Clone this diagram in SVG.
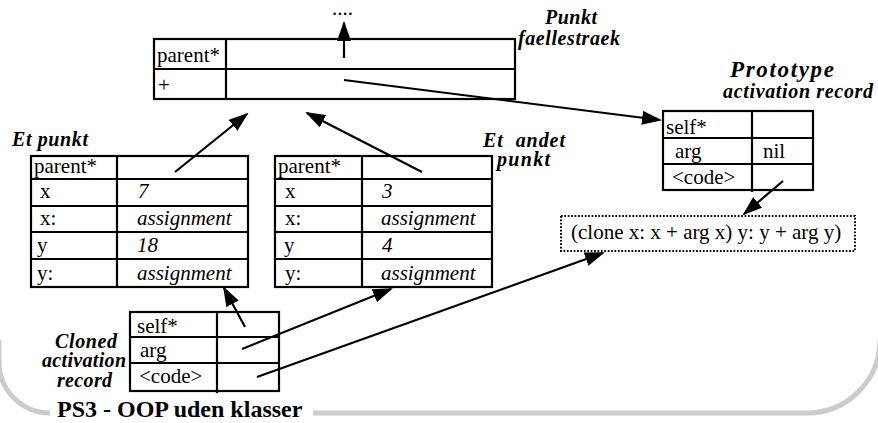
<svg xmlns="http://www.w3.org/2000/svg" width="878" height="423" viewBox="0 0 878 423">
  <style>
    .cell { fill: none; stroke: #000; stroke-width: 2.2; }
    .t { font-size: 21px; fill: #000; }
    .i { font-style: italic; }
    .lbl { font-size: 20px; font-weight: bold; font-style: italic; fill: #000; }
    .big { font-size: 23px; }
    .title { font-size: 24px; font-weight: bold; fill: #000; }
    .frame { fill: none; stroke: #cccccc; stroke-width: 5; }
    .arrow { fill: none; stroke: #000; stroke-width: 2.2; marker-end: url(#head); }
    .dots { fill: none; stroke: #000; stroke-width: 2; stroke-dasharray: 1.7 1.7; }
  </style>
  <defs>
    <marker id="head" markerUnits="userSpaceOnUse" viewBox="0 0 20 14" refX="18" refY="7" markerWidth="20" markerHeight="14" orient="auto">
      <path d="M0,0 L20,7 L0,14 z" fill="#000"/>
    </marker>
  </defs>

  <g font-family="'Liberation Serif', 'Times New Roman', serif">
  <!-- slide frame -->
  <g id="frame">
    <path class="frame" d="M -1,340 L -1,362 A 51 51 0 0 0 50,413"/>
    <path class="frame" d="M 313,413 L 807,413 A 73 73 0 0 0 880,340"/>
    <text class="title" x="57" y="417">PS3 - OOP uden klasser</text>
  </g>

  <!-- shared parent object -->
  <g id="punkt-faellestraek">
    <rect class="cell" x="154" y="39" width="361" height="60"/>
    <line class="cell" x1="154" y1="69" x2="515" y2="69"/>
    <line class="cell" x1="226" y1="39" x2="226" y2="99"/>
    <text class="t" x="157" y="62">parent*</text>
    <text class="t" x="158" y="92">+</text>
    <text class="t" x="332" y="15">....</text>
    <text class="lbl" x="545" y="24" textLength="52" lengthAdjust="spacing">Punkt</text>
    <text class="lbl" x="518" y="45" textLength="102" lengthAdjust="spacing">faellestraek</text>
  </g>

  <!-- first point -->
  <g id="et-punkt">
    <rect class="cell" x="31" y="156" width="217" height="131"/>
    <line class="cell" x1="117" y1="156" x2="117" y2="287"/>
    <line class="cell" x1="31" y1="179" x2="248" y2="179"/>
    <line class="cell" x1="31" y1="206" x2="248" y2="206"/>
    <line class="cell" x1="31" y1="232" x2="248" y2="232"/>
    <line class="cell" x1="31" y1="259" x2="248" y2="259"/>
    <text class="t" x="34" y="173">parent*</text>
    <text class="t" x="40" y="198">x</text>
    <text class="t i" x="138" y="198">7</text>
    <text class="t" x="40" y="225">x:</text>
    <text class="t i" x="137" y="225">assignment</text>
    <text class="t" x="37" y="252">y</text>
    <text class="t i" x="137" y="252">18</text>
    <text class="t" x="37" y="280">y:</text>
    <text class="t i" x="137" y="280">assignment</text>
    <text class="lbl" x="12" y="146" textLength="76" lengthAdjust="spacing">Et punkt</text>
  </g>

  <!-- second point -->
  <g id="et-andet-punkt">
    <rect class="cell" x="275" y="156" width="217" height="131"/>
    <line class="cell" x1="362" y1="156" x2="362" y2="287"/>
    <line class="cell" x1="275" y1="179" x2="492" y2="179"/>
    <line class="cell" x1="275" y1="206" x2="492" y2="206"/>
    <line class="cell" x1="275" y1="232" x2="492" y2="232"/>
    <line class="cell" x1="275" y1="259" x2="492" y2="259"/>
    <text class="t" x="278" y="173">parent*</text>
    <text class="t" x="285" y="198">x</text>
    <text class="t i" x="382" y="198">3</text>
    <text class="t" x="285" y="225">x:</text>
    <text class="t i" x="381" y="225">assignment</text>
    <text class="t" x="284" y="252">y</text>
    <text class="t i" x="382" y="252">4</text>
    <text class="t" x="285" y="280">y:</text>
    <text class="t i" x="381" y="280">assignment</text>
    <text class="lbl" x="483" y="147" textLength="82" lengthAdjust="spacing" xml:space="preserve">Et  andet</text>
    <text class="lbl" x="497" y="166" textLength="53" lengthAdjust="spacing">punkt</text>
  </g>

  <!-- prototype activation record -->
  <g id="prototype-record">
    <rect class="cell" x="663" y="111" width="150" height="79"/>
    <line class="cell" x1="752" y1="111" x2="752" y2="192"/>
    <line class="cell" x1="663" y1="138" x2="813" y2="138"/>
    <line class="cell" x1="663" y1="164" x2="813" y2="164"/>
    <text class="t" x="666" y="134">self*</text>
    <text class="t" x="675" y="158">arg</text>
    <text class="t" x="763" y="158">nil</text>
    <text class="t" x="672" y="184">&lt;code&gt;</text>
    <text class="lbl big" x="730" y="77" textLength="104" lengthAdjust="spacing">Prototype</text>
    <text class="lbl" x="723" y="98" textLength="150" lengthAdjust="spacing">activation record</text>
  </g>

  <!-- method body -->
  <g id="code">
    <rect class="dots" x="561" y="216" width="294" height="35"/>
    <text class="t" x="571" y="239">(clone x: x + arg x) y: y + arg y)</text>
  </g>

  <!-- cloned activation record -->
  <g id="cloned-record">
    <rect class="cell" x="130" y="312" width="149" height="79"/>
    <line class="cell" x1="217" y1="312" x2="217" y2="393"/>
    <line class="cell" x1="130" y1="337" x2="279" y2="337"/>
    <line class="cell" x1="130" y1="363" x2="279" y2="363"/>
    <text class="t" x="137" y="333">self*</text>
    <text class="t" x="140" y="357">arg</text>
    <text class="t" x="139" y="383">&lt;code&gt;</text>
    <text class="lbl" x="55" y="348" textLength="62" lengthAdjust="spacing">Cloned</text>
    <text class="lbl" x="42" y="367" textLength="84" lengthAdjust="spacing">activation</text>
    <text class="lbl" x="57" y="387" textLength="55" lengthAdjust="spacing">record</text>
  </g>
  </g>

  <!-- slot references -->
  <g id="connectors">
    <line class="arrow" x1="344" y1="58" x2="344" y2="23"/>
    <line class="arrow" x1="344" y1="80" x2="660" y2="120"/>
    <line class="arrow" x1="175" y1="172" x2="247" y2="114"/>
    <line class="arrow" x1="422" y1="172" x2="307" y2="113"/>
    <line class="arrow" x1="783" y1="181" x2="744" y2="214"/>
    <line class="arrow" x1="245" y1="327" x2="224" y2="288"/>
    <line class="arrow" x1="242" y1="349" x2="391" y2="289"/>
    <line class="arrow" x1="257" y1="377" x2="603" y2="253"/>
  </g>
</svg>
